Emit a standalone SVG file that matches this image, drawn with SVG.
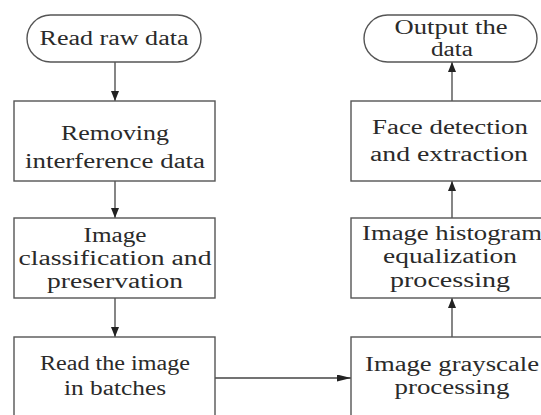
<svg xmlns="http://www.w3.org/2000/svg" width="541" height="415" viewBox="0 0 541 415">
<defs>
<style>
.node{fill:#fff;stroke:#555;stroke-width:1.4}
.t{font-family:'Liberation Serif','Times New Roman',Times,serif;font-size:20px;fill:#2a2a2a;text-anchor:middle}
.edge{stroke:#444;stroke-width:1.3;fill:none}
</style>
<marker id="ah" viewBox="0 0 10 8" refX="10" refY="4" markerWidth="10" markerHeight="8" markerUnits="userSpaceOnUse" orient="auto">
<path d="M0,0 L10,4 L0,8 Z" fill="#222"/>
</marker>
<marker id="ahl" viewBox="0 0 14 7" refX="14" refY="3.5" markerWidth="14" markerHeight="7" markerUnits="userSpaceOnUse" orient="auto">
<path d="M0,0 L14,3.5 L0,7 Z" fill="#222"/>
</marker>
</defs>
<rect width="541" height="415" fill="#fff"/>
<g id="connectors">
<line class="edge" x1="115" y1="62" x2="115" y2="101" marker-end="url(#ah)"/>
<line class="edge" x1="115" y1="181" x2="115" y2="218" marker-end="url(#ah)"/>
<line class="edge" x1="115" y1="298" x2="115" y2="337" marker-end="url(#ah)"/>
<line class="edge" x1="215" y1="378" x2="351" y2="378" marker-end="url(#ahl)"/>
<line class="edge" x1="452" y1="337" x2="452" y2="298" marker-end="url(#ah)"/>
<line class="edge" x1="452" y1="218" x2="452" y2="181" marker-end="url(#ah)"/>
<line class="edge" x1="452" y1="101" x2="452" y2="62" marker-end="url(#ah)"/>
</g>
<g id="read-raw-data">
<rect class="node" x="27" y="15" width="174" height="47" rx="23.5" ry="23.5"/>
<text class="t" font-family="Liberation Serif, serif" x="114" y="45" textLength="149" lengthAdjust="spacingAndGlyphs">Read raw data</text>
</g>
<g id="removing-interference">
<rect class="node" x="14" y="101" width="201" height="80"/>
<text class="t" x="115" y="140" textLength="108" lengthAdjust="spacingAndGlyphs">Removing</text>
<text class="t" x="115" y="168" textLength="180" lengthAdjust="spacingAndGlyphs">interference data</text>
</g>
<g id="image-classification">
<rect class="node" x="14" y="218" width="201" height="80"/>
<text class="t" x="115" y="242" textLength="63" lengthAdjust="spacingAndGlyphs">Image</text>
<text class="t" x="115" y="265" textLength="193" lengthAdjust="spacingAndGlyphs">classification and</text>
<text class="t" x="115" y="288" textLength="136" lengthAdjust="spacingAndGlyphs">preservation</text>
</g>
<g id="read-batches">
<rect class="node" x="14" y="337" width="201" height="100"/>
<text class="t" x="115" y="370" textLength="150" lengthAdjust="spacingAndGlyphs">Read the image</text>
<text class="t" x="115" y="395" textLength="102" lengthAdjust="spacingAndGlyphs">in batches</text>
</g>
<g id="grayscale">
<rect class="node" x="351" y="337" width="210" height="100"/>
<text class="t" x="452" y="371" textLength="174" lengthAdjust="spacingAndGlyphs">Image grayscale</text>
<text class="t" x="452" y="394" textLength="115" lengthAdjust="spacingAndGlyphs">processing</text>
</g>
<g id="histogram">
<rect class="node" x="351" y="218" width="210" height="80"/>
<text class="t" x="452" y="240" textLength="180" lengthAdjust="spacingAndGlyphs">Image histogram</text>
<text class="t" x="450" y="263" textLength="134" lengthAdjust="spacingAndGlyphs">equalization</text>
<text class="t" x="450" y="287" textLength="120" lengthAdjust="spacingAndGlyphs">processing</text>
</g>
<g id="face-detection">
<rect class="node" x="351" y="101" width="210" height="80"/>
<text class="t" x="450" y="134" textLength="156" lengthAdjust="spacingAndGlyphs">Face detection</text>
<text class="t" x="449" y="161" textLength="158" lengthAdjust="spacingAndGlyphs">and extraction</text>
</g>
<g id="output-data">
<rect class="node" x="364" y="15" width="173" height="47" rx="23.5" ry="23.5"/>
<text class="t" x="451" y="34" textLength="113" lengthAdjust="spacingAndGlyphs">Output the</text>
<text class="t" x="452" y="56" textLength="42" lengthAdjust="spacingAndGlyphs">data</text>
</g>
</svg>
